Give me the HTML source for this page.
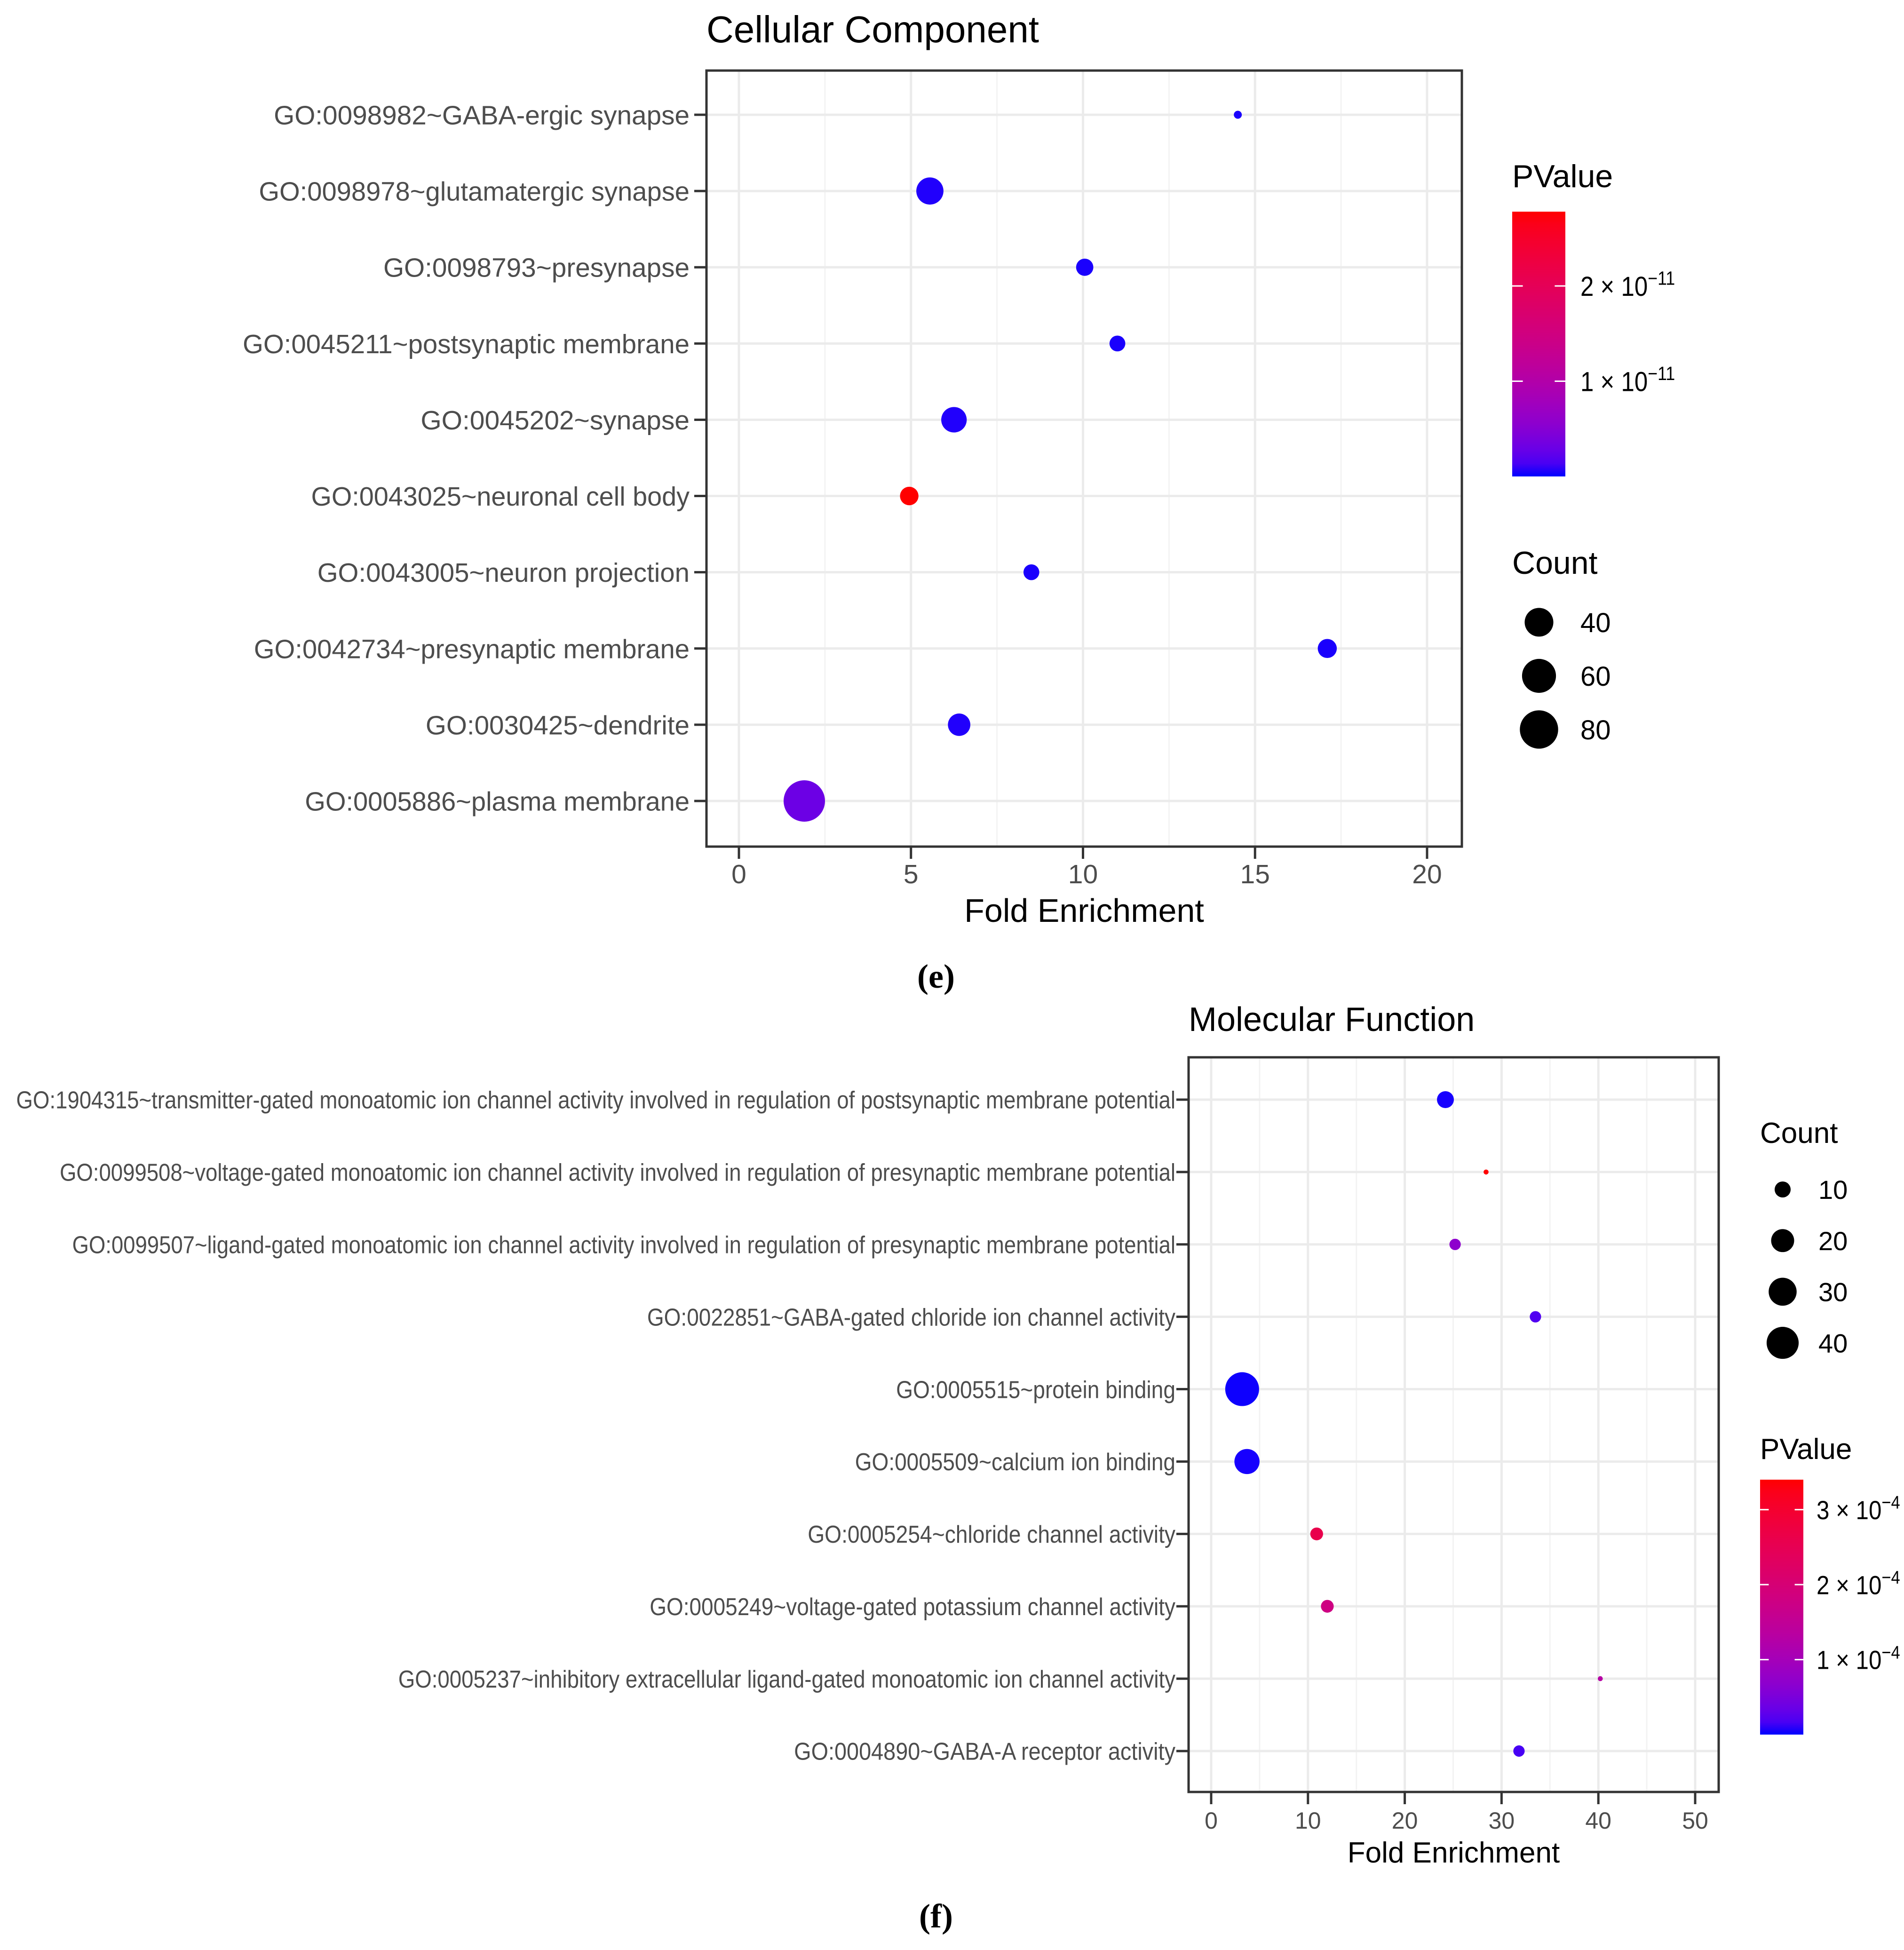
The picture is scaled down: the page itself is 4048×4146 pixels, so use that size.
<!DOCTYPE html>
<html><head><meta charset="utf-8"><style>
html,body{margin:0;padding:0;background:#fff;}
svg{display:block;font-family:"Liberation Sans",Arial,sans-serif;}
</style></head><body>
<svg id="chart" width="4048" height="4146" viewBox="0 0 4048 4146" xmlns="http://www.w3.org/2000/svg"></svg>
<script>
// ---- Panel (e): Cellular Component ----
const ccTerms = ["GO:0098982~GABA-ergic synapse","GO:0098978~glutamatergic synapse","GO:0098793~presynapse","GO:0045211~postsynaptic membrane","GO:0045202~synapse","GO:0043025~neuronal cell body","GO:0043005~neuron projection","GO:0042734~presynaptic membrane","GO:0030425~dendrite","GO:0005886~plasma membrane"];
const ccFold = [14.5, 5.55, 10.05, 11.0, 6.25, 4.95, 8.5, 17.1, 6.4, 1.9];
const ccCount = [5, 35, 12, 10, 30, 14, 10, 15, 22, 96];
const ccPValue = [0.02e-11, 0.03e-11, 0.02e-11, 0.02e-11, 0.03e-11, 2.78e-11, 0.02e-11, 0.02e-11, 0.03e-11, 0.3e-11];
const ccXTicks = [0, 5, 10, 15, 20];
const ccPTicks = [1e-11, 2e-11];
const ccPTickLabels = ["1", "2"];
const ccSizeLegend = [40, 60, 80];

// ---- Panel (f): Molecular Function ----
const mfTerms = ["GO:1904315~transmitter-gated monoatomic ion channel activity involved in regulation of postsynaptic membrane potential","GO:0099508~voltage-gated monoatomic ion channel activity involved in regulation of presynaptic membrane potential","GO:0099507~ligand-gated monoatomic ion channel activity involved in regulation of presynaptic membrane potential","GO:0022851~GABA-gated chloride ion channel activity","GO:0005515~protein binding","GO:0005509~calcium ion binding","GO:0005254~chloride channel activity","GO:0005249~voltage-gated potassium channel activity","GO:0005237~inhibitory extracellular ligand-gated monoatomic ion channel activity","GO:0004890~GABA-A receptor activity"];
const mfFold = [24.2, 28.4, 25.2, 33.5, 3.2, 3.7, 10.9, 12.0, 40.2, 31.8];
const mfCount = [11, 4, 6, 6, 45, 24, 7, 7, 4, 6];
const mfPValue = [0.02e-4, 3.4e-4, 0.7e-4, 0.2e-4, 0.01e-4, 0.02e-4, 2.6e-4, 1.8e-4, 1.3e-4, 0.15e-4];
const mfXTicks = [0, 10, 20, 30, 40, 50];
const mfPTicks = [1e-4, 2e-4, 3e-4];
const mfPTickLabels = ["1", "2", "3"];
const mfSizeLegend = [10, 20, 30, 40];

const NS = "http://www.w3.org/2000/svg";
const svg = document.getElementById("chart");
function el(tag, attrs, parent, text){
  const e = document.createElementNS(NS, tag);
  for (const k in attrs) e.setAttribute(k, attrs[k]);
  if (text !== undefined) e.textContent = text;
  (parent || svg).appendChild(e);
  return e;
}
function s2l(c){c/=255;return c<=0.04045?c/12.92:Math.pow((c+0.055)/1.055,2.4);}
function l2s(c){c=c<=0.0031308?12.92*c:1.055*Math.pow(c,1/2.4)-0.055;return Math.max(0,Math.min(255,Math.round(c*255)));}
function toLab(r,g,b){r=s2l(r);g=s2l(g);b=s2l(b);
  let x=(r*0.4124+g*0.3576+b*0.1805)/0.95047,y=r*0.2126+g*0.7152+b*0.0722,z=(r*0.0193+g*0.1192+b*0.9505)/1.08883;
  const f=t=>t>0.008856?Math.cbrt(t):7.787*t+16/116;x=f(x);y=f(y);z=f(z);
  return [116*y-16,500*(x-y),200*(y-z)];}
function fromLab(L,a,b){let y=(L+16)/116,x=a/500+y,z=y-b/200;
  const fi=t=>t*t*t>0.008856?t*t*t:(t-16/116)/7.787;x=fi(x)*0.95047;y=fi(y);z=fi(z)*1.08883;
  const r=x*3.2406+y*-1.5372+z*-0.4986,g=x*-0.9689+y*1.8758+z*0.0415,bb=x*0.0557+y*-0.2040+z*1.0570;
  return "rgb("+l2s(r)+","+l2s(g)+","+l2s(bb)+")";}
const LB=toLab(0,0,255), LR=toLab(255,0,0);
function grad(t){t=Math.max(0,Math.min(1,t));return fromLab(LB[0]+(LR[0]-LB[0])*t,LB[1]+(LR[1]-LB[1])*t,LB[2]+(LR[2]-LB[2])*t);}

function drawPanel(o){
  const g = el("g", {});
  
  
  const xs = v => o.x0 + (v - o.xmin) * (o.x1 - o.x0) / (o.xmax - o.xmin);
  const ys = i => o.y0 + i * (o.y1 - o.y0) / (o.terms.length - 1);
  const t = el("text", {x:o.px0, y:o.titleY, "font-size":o.titleSize, fill:"#000"}, g, o.title);
  
  
  el("rect", {x:o.px0, y:o.py0, width:o.px1-o.px0, height:o.py1-o.py0, fill:"#fff"}, g);
  for (let k = 0; k < o.xticks.length - 1; k++) {
    const m = (o.xticks[k] + o.xticks[k+1]) / 2;
    el("line", {x1:xs(m), x2:xs(m), y1:o.py0, y2:o.py1, stroke:"#f3f3f3", "stroke-width":3}, g);
  }
  o.xticks.forEach(v => {
    const ln = el("line", {x1:xs(v), x2:xs(v), y1:o.py0, y2:o.py1, stroke:"#ebebeb", "stroke-width":5}, g);
    
    
  });
  o.terms.forEach((_, i) => {
    el("line", {x1:o.px0, x2:o.px1, y1:ys(i), y2:ys(i), stroke:"#ebebeb", "stroke-width":5}, g);
  });
  const cmin = Math.min(...o.count), cmax = Math.max(...o.count);
  const rad = c => o.rmin + (o.rmax - o.rmin) * Math.sqrt(Math.max(0,(c - cmin)) / (cmax - cmin));
  o.terms.forEach((term, i) => {
    const c = el("circle", {cx:xs(o.fold[i]), cy:ys(i), r:rad(o.count[i]), fill:grad((o.pval[i]-o.pmin)/(o.pmax-o.pmin))}, g);
    
    
  });
  el("rect", {x:o.px0, y:o.py0, width:o.px1-o.px0, height:o.py1-o.py0, fill:"none", stroke:"#333", "stroke-width":5}, g);
  o.terms.forEach((term, i) => {
    el("line", {x1:o.px0-26, x2:o.px0, y1:ys(i), y2:ys(i), stroke:"#333", "stroke-width":5}, g);
    const lbl = el("text", {x:o.labelStarts[i], y:ys(i)+o.labelSize*0.36, "font-size":o.labelSize, fill:"#4d4d4d", textLength:o.labelEnd-o.labelStarts[i], lengthAdjust:"spacingAndGlyphs"}, g, term);
    
    
  });
  o.xticks.forEach(v => {
    el("line", {x1:xs(v), x2:xs(v), y1:o.py1, y2:o.py1+26, stroke:"#333", "stroke-width":5}, g);
    const tl = el("text", {x:xs(v), y:o.py1+o.tickOff, "font-size":o.tickSize, fill:"#4d4d4d", "text-anchor":"middle"}, g, String(v));
    
    
  });
  const xt = el("text", {x:(o.px0+o.px1)/2, y:o.xTitleY, "font-size":o.xTitleSize, fill:"#000", "text-anchor":"middle"}, g, "Fold Enrichment");
  
  
  const cb = o.cbar;
  const pt = el("text", {x:cb.x, y:cb.titleY, "font-size":o.legTitleSize, fill:"#000"}, g, "PValue");
  
  
  const gid = o.name + "-grad";
  const defs = el("defs", {}, g);
  const lg = el("linearGradient", {id:gid, x1:0, y1:1, x2:0, y2:0}, defs);
  for (let k = 0; k <= 20; k++) el("stop", {offset:k/20, "stop-color":grad(k/20)}, lg);
  const bar = el("rect", {x:cb.x, y:cb.y0, width:cb.w, height:cb.y1-cb.y0, fill:"url(#"+gid+")"}, g);
  
  
  const cy = p => cb.y1 - (p - o.pmin) / (o.pmax - o.pmin) * (cb.y1 - cb.y0);
  o.pticks.forEach((p, k) => {
    el("line", {x1:cb.x, x2:cb.x+cb.w*0.2, y1:cy(p), y2:cy(p), stroke:"#fff", "stroke-width":3}, g);
    el("line", {x1:cb.x+cb.w*0.8, x2:cb.x+cb.w, y1:cy(p), y2:cy(p), stroke:"#fff", "stroke-width":3}, g);
    const tx = el("text", {x:cb.x+cb.w+cb.labGap, y:cy(p)+o.legLabSize*0.36, "font-size":o.legLabSize, fill:"#000", transform:"translate("+(cb.x+cb.w+cb.labGap)+",0) scale(0.88,1) translate("+(-(cb.x+cb.w+cb.labGap))+",0)"}, g);
    
    
    el("tspan", {}, tx, o.ptickLabels[k] + " \u00d7 10");
    el("tspan", {dy:-o.legLabSize*0.4, "font-size":o.legLabSize*0.7}, tx, o.pexp);
  });
  const sl = o.sleg;
  const ct = el("text", {x:sl.titleX, y:sl.titleY, "font-size":o.legTitleSize, fill:"#000"}, g, "Count");
  
  
  o.sizes.forEach((s, k) => {
    const y = sl.y0 + k * sl.step;
    const c = el("circle", {cx:sl.cx, cy:y, r:rad(s), fill:"#000"}, g);
    
    
    const tx = el("text", {x:sl.labX, y:y+o.legLabSize*0.36, "font-size":o.legLabSize, fill:"#000"}, g, String(s));
    
    
  });
}

const ccStartsDisp = [220,208,308,195,338,250,255,204,342,245];
drawPanel({
  name:"cellular-component-panel", title:"Cellular Component", titleY:90, titleSize:80,
  terms:ccTerms, fold:ccFold, count:ccCount, pval:ccPValue,
  px0:1502, px1:3108, py0:150, py1:1800,
  x0:1571, x1:3034, xmin:0, xmax:20, y0:244, y1:1703,
  xticks:ccXTicks, rmin:8.5, rmax:44,
  labelStarts:ccStartsDisp.map(d => d*2.646), labelEnd:1466, labelSize:57,
  tickSize:57, tickOff:78, xTitleY:1960, xTitleSize:70,
  pmin:0, pmax:2.78e-11, pticks:ccPTicks, ptickLabels:ccPTickLabels, pexp:"\u221211",
  legTitleSize:68, legLabSize:58,
  cbar:{x:3215, w:113, y0:450, y1:1013, titleY:398, labGap:32},
  sizes:ccSizeLegend, sleg:{titleX:3215, titleY:1220, cx:3272, y0:1323, step:114, labX:3360}
});

const mfStartsDisp = [13,48,58,520,720,687,649,522,320,638];
drawPanel({
  name:"molecular-function-panel", title:"Molecular Function", titleY:2192, titleSize:72,
  terms:mfTerms, fold:mfFold, count:mfCount, pval:mfPValue,
  px0:2527, px1:3654, py0:2248, py1:3810,
  x0:2575, x1:3604, xmin:0, xmax:50, y0:2338, y1:3723,
  xticks:mfXTicks, rmin:5.3, rmax:36,
  labelStarts:mfStartsDisp.map(d => d*2.646), labelEnd:2499, labelSize:52,
  tickSize:50, tickOff:78, xTitleY:3960, xTitleSize:62,
  pmin:0, pmax:3.4e-4, pticks:mfPTicks, ptickLabels:mfPTickLabels, pexp:"\u22124",
  legTitleSize:62, legLabSize:56,
  cbar:{x:3742, w:92, y0:3146, y1:3688, titleY:3102, labGap:28},
  sizes:mfSizeLegend, sleg:{titleX:3742, titleY:2430, cx:3790, y0:2529, step:108.7, labX:3866}
});

const e1 = el("text", {x:1990, y:2100, "font-size":72, "font-weight":"bold", "font-family":"'Liberation Serif',serif", "text-anchor":"middle", fill:"#000"}, svg, "(e)");


const f1 = el("text", {x:1990, y:4098, "font-size":72, "font-weight":"bold", "font-family":"'Liberation Serif',serif", "text-anchor":"middle", fill:"#000"}, svg, "(f)");


</script>
</body></html>
